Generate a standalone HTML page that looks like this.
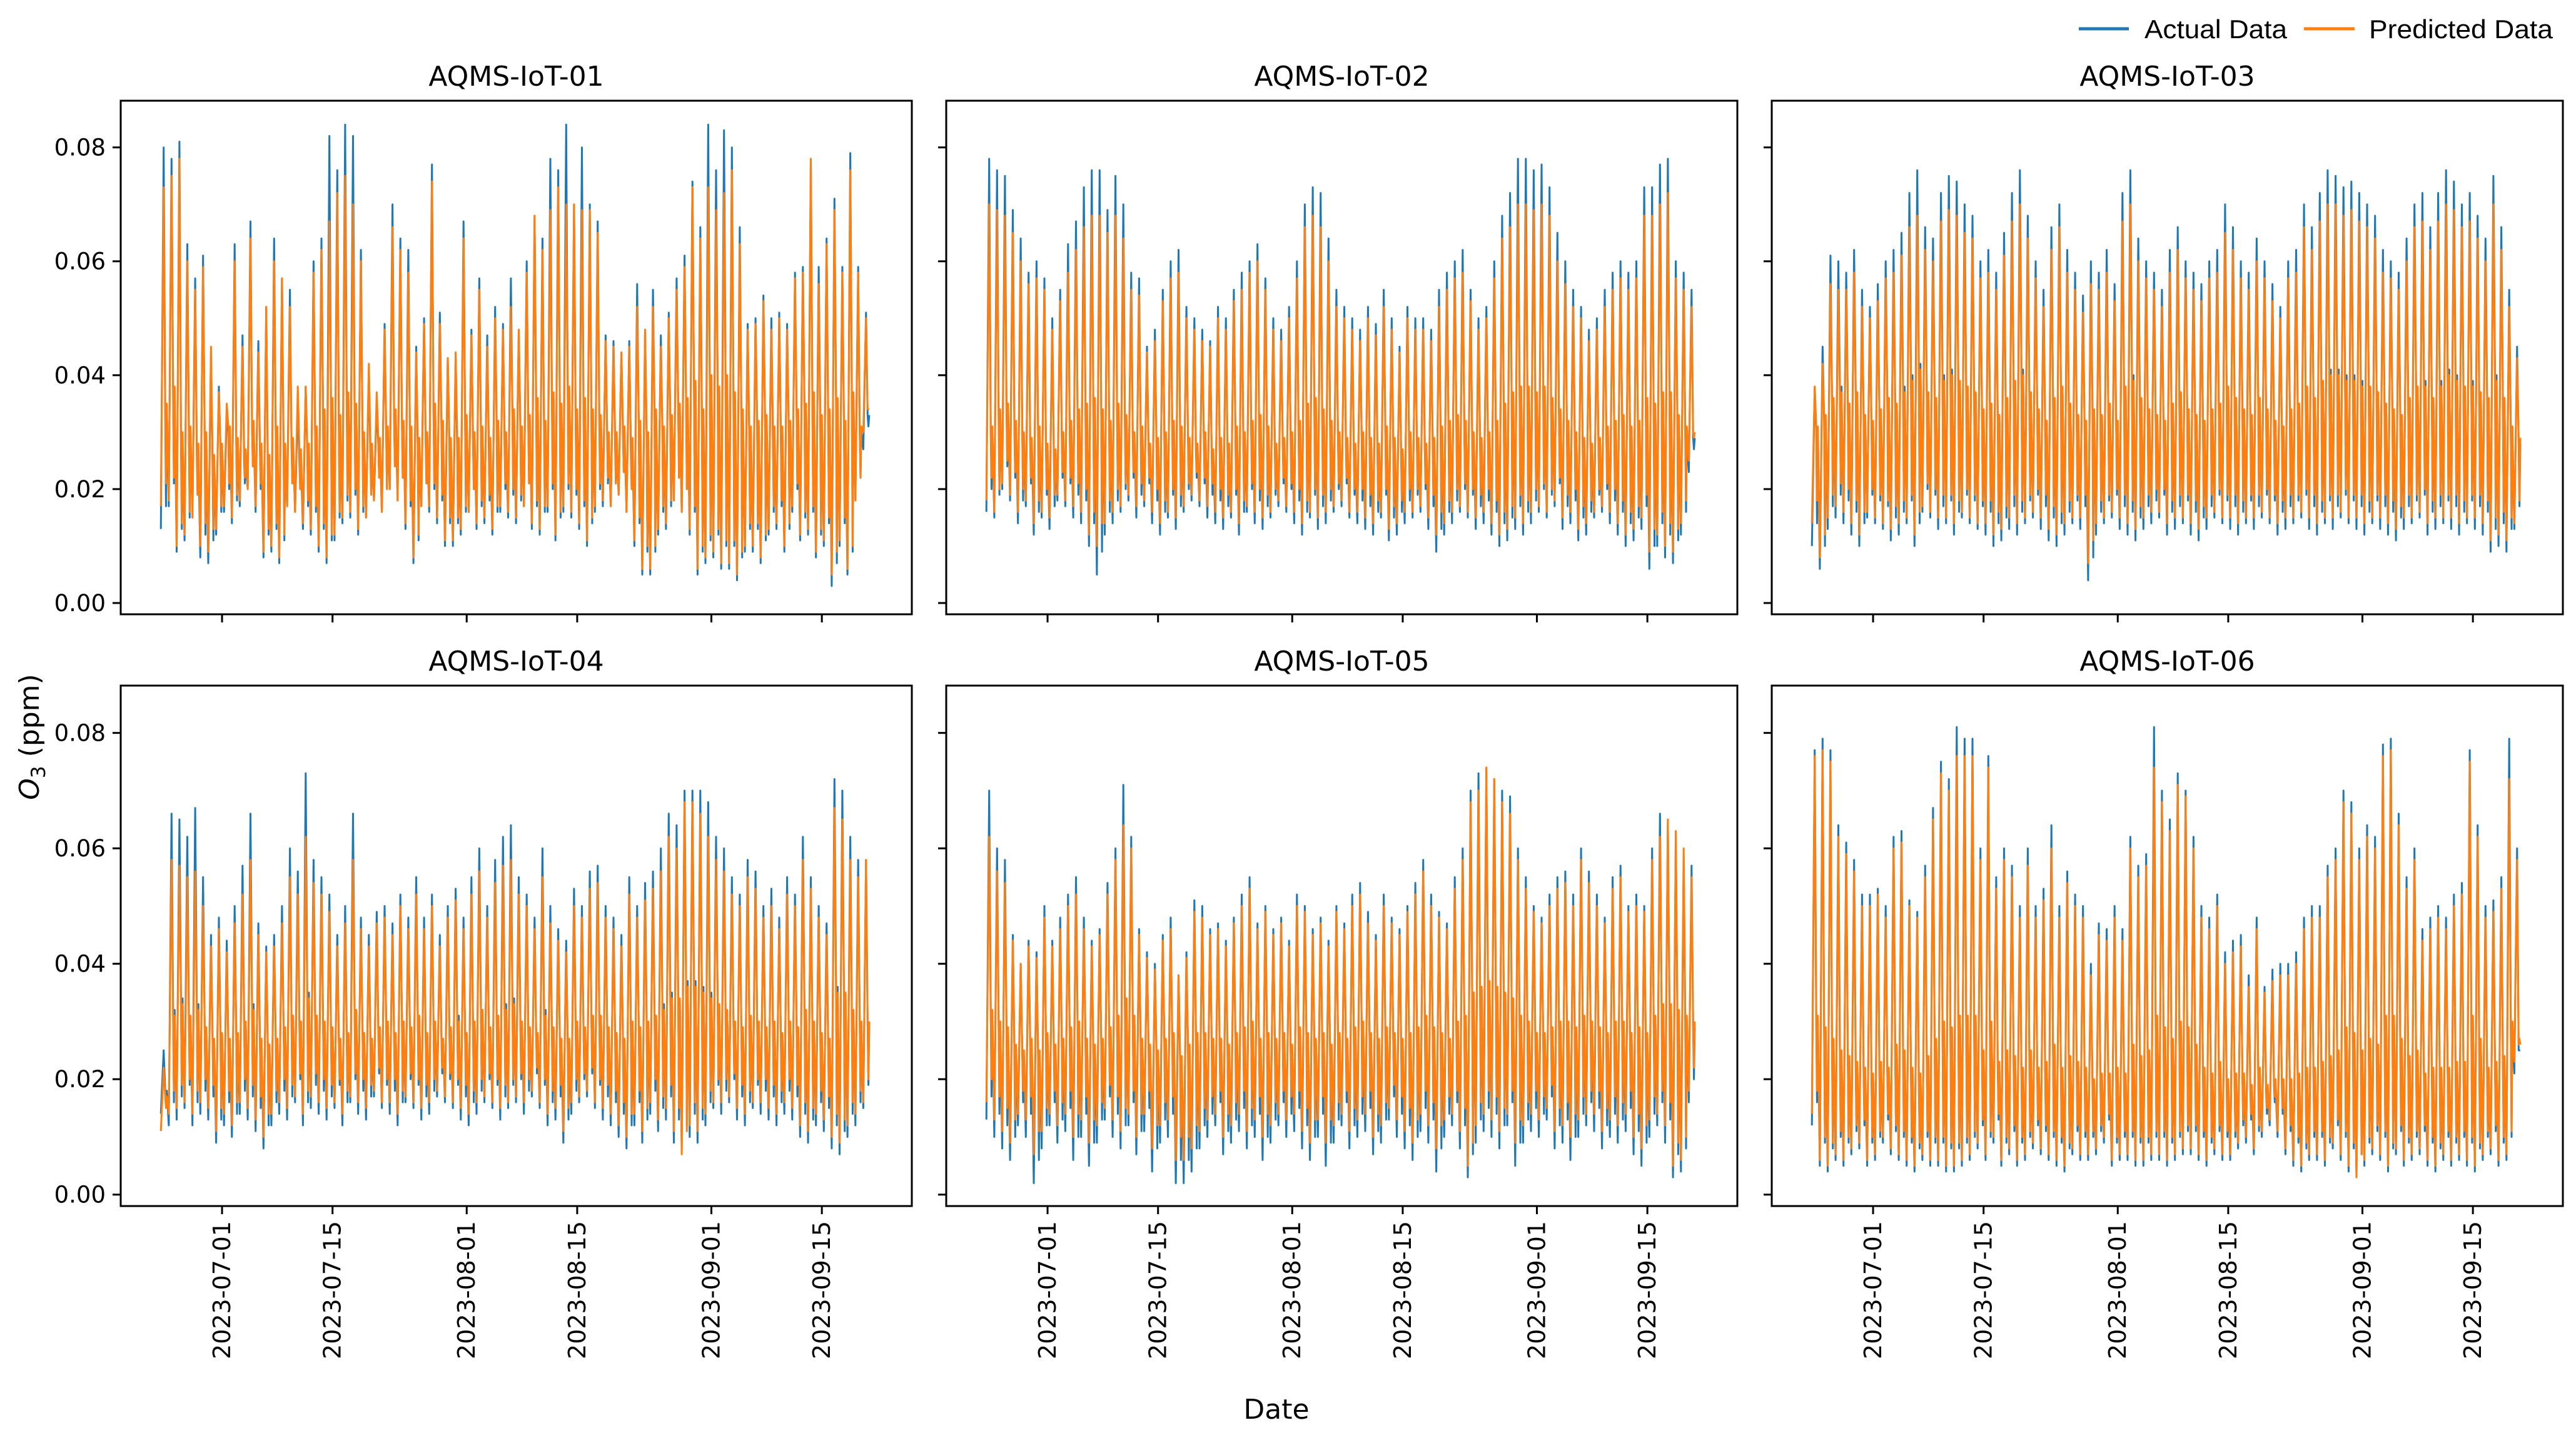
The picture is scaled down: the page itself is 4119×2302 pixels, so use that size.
<!DOCTYPE html>
<html><head><meta charset="utf-8"><style>
html,body{margin:0;padding:0;background:#fff;}
svg{display:block;}
</style></head><body>
<svg id="fig" xmlns="http://www.w3.org/2000/svg" width="4119" height="2302" viewBox="0 0 4119 2302">
<rect x="0" y="0" width="4119" height="2302" fill="#fff"/>
<g>
<line x1="3324" y1="46" x2="3404" y2="46" stroke="#1f77b4" stroke-width="5"/>
<text x="3429" y="61" font-family="Liberation Sans, sans-serif" font-size="42" textLength="228" lengthAdjust="spacingAndGlyphs">Actual Data</text>
<line x1="3684" y1="46" x2="3765" y2="46" stroke="#ff7f0e" stroke-width="5"/>
<text x="3788" y="61" font-family="Liberation Sans, sans-serif" font-size="42" textLength="294" lengthAdjust="spacingAndGlyphs">Predicted Data</text>
</g>
<text x="0" y="0" transform="translate(62,1178) rotate(-90)" text-anchor="middle" font-family="DejaVu Sans, sans-serif" font-size="44"><tspan font-style="italic">O</tspan><tspan font-size="31" dy="10">3</tspan><tspan dy="-10"> (ppm)</tspan></text>
<text x="2041" y="2268" text-anchor="middle" font-family="DejaVu Sans, sans-serif" font-size="44">Date</text>
<g id="panels"></g>
</svg>
<script>
const panelTitles = ["AQMS-IoT-01","AQMS-IoT-02","AQMS-IoT-03","AQMS-IoT-04","AQMS-IoT-05","AQMS-IoT-06"];
const yTicks = [0, 0.02, 0.04, 0.06, 0.08];
const yTickLabels = ["0.00","0.02","0.04","0.06","0.08"];
const xTickDays = [0, 14, 31, 45, 62, 76];
const xTickLabels = ["2023-07-01","2023-07-15","2023-08-01","2023-08-15","2023-09-01","2023-09-15"];
const startDay = -8; // 2023-06-23 relative to 2023-07-01
// daily peaks / troughs / evening values in ppb (thousandths of ppm)
const p1ActualHi = [80,78,81,63,57,61,44,38,33,63,47,67,46,52,64,57,55,35,38,60,64,82,76,84,82,62,41,35,49,70,64,62,45,50,77,51,43,43,67,48,57,47,52,49,57,48,60,68,64,78,76,84,70,80,70,67,47,46,44,46,56,48,55,47,51,57,61,74,66,84,76,83,80,66,49,50,54,50,51,49,58,59,78,59,64,71,59,79,59,51];
const p1ActualLo = [13,17,9,11,15,8,7,12,16,14,17,20,16,8,9,7,17,16,13,12,9,7,11,14,15,12,15,18,16,20,18,13,7,17,16,14,10,10,12,16,13,14,12,16,15,14,17,13,12,16,11,16,15,13,10,16,17,17,19,16,10,5,5,12,13,18,16,12,5,7,8,6,6,4,9,9,7,12,13,9,16,11,12,8,10,3,10,5,18,27];
const p1ActualMid = [33,37,28,30,26,29,24,27,30,28,25,31,27,24,30,26,28,25,27,30,33,35,31,36,34,29,26,28,30,33,31,30,27,29,34,31,28,27,32,29,30,27,31,28,33,30,32,35,31,36,34,37,33,35,33,32,29,28,30,27,31,29,33,30,32,34,35,38,33,40,37,39,36,33,30,31,32,29,30,31,33,34,36,32,33,35,31,36,30,33];
const p1PredHi = [73,75,78,60,55,59,45,37,35,60,45,64,44,52,60,57,52,38,38,58,62,67,72,75,70,60,42,37,48,66,62,58,44,49,74,49,43,44,64,47,55,45,50,48,52,48,58,68,62,69,73,70,70,69,69,65,46,45,44,45,52,48,52,45,50,55,59,73,64,73,69,72,76,63,48,49,53,48,50,48,57,58,78,56,63,69,58,76,58,50];
const p1PredLo = [17,18,10,12,15,10,9,13,17,15,18,20,17,9,10,8,17,16,14,13,10,8,12,15,16,13,15,18,16,20,18,14,8,17,17,15,11,11,13,16,14,15,13,17,16,15,17,14,13,17,12,17,16,14,11,17,18,17,19,16,11,6,6,13,14,18,16,13,6,8,9,7,7,5,10,10,8,13,14,10,17,12,13,9,11,5,11,6,18,30];
const p1PredMid = [35,38,30,31,28,30,26,28,31,29,27,32,28,26,31,28,29,27,28,31,34,36,33,37,35,30,28,29,31,34,32,31,29,30,35,32,29,29,33,30,31,29,32,30,34,31,33,36,32,37,35,38,34,36,34,33,30,30,31,29,32,30,34,31,33,35,36,39,34,40,38,40,37,34,31,32,33,31,31,32,34,35,37,33,34,36,32,37,31,34];
const p2ActualHi = [78,76,75,69,64,58,60,57,50,55,63,67,73,76,76,69,75,70,58,57,45,48,55,60,62,52,50,48,46,52,50,55,58,60,63,57,50,48,52,60,70,73,72,64,55,52,50,48,52,49,55,50,45,52,50,50,48,55,58,60,62,55,50,52,60,68,72,78,78,76,77,73,65,60,55,52,48,50,55,58,60,58,60,73,73,77,78,60,58,55];
const p2ActualLo = [16,15,20,18,14,17,12,15,13,18,17,15,14,10,5,12,14,16,18,15,17,14,12,15,13,16,18,17,15,14,13,15,12,16,14,13,15,17,16,14,12,15,13,14,16,17,15,14,13,12,15,11,12,14,15,16,13,9,12,14,16,15,13,14,12,10,11,13,12,14,16,15,17,13,14,11,12,15,16,14,12,10,11,13,6,10,8,7,12,23];
const p2ActualMid = [30,33,34,31,29,28,30,27,26,29,31,33,34,35,33,31,34,32,29,30,27,28,29,31,30,28,27,29,26,28,27,30,29,31,32,30,27,28,29,31,34,35,33,31,29,28,27,29,28,27,30,28,26,29,28,27,28,30,31,32,31,29,28,29,31,34,36,38,37,36,37,35,33,31,29,28,27,28,30,31,32,30,31,35,34,36,37,32,30,29];
const p2PredHi = [70,69,68,65,60,56,57,55,48,53,58,62,66,68,68,65,68,64,55,54,44,46,53,57,58,50,48,46,45,50,48,53,55,58,60,55,48,46,50,57,66,68,66,60,52,50,48,46,50,47,52,48,44,50,48,48,46,52,55,57,58,53,48,50,57,64,66,70,70,69,70,68,60,56,52,50,46,48,52,55,57,55,57,68,68,70,72,57,55,52];
const p2PredLo = [18,16,21,19,16,18,14,16,15,19,18,17,16,12,10,14,16,17,19,17,18,16,14,16,15,17,19,18,17,16,15,16,14,17,16,15,16,18,17,16,14,16,15,16,17,18,16,16,15,14,16,13,14,16,16,17,15,12,14,16,17,16,15,16,14,12,13,15,14,16,17,16,18,15,16,13,14,16,17,16,14,12,13,15,9,12,10,9,14,25];
const p2PredMid = [31,34,35,32,30,29,31,28,27,30,32,34,35,36,34,32,35,33,30,31,28,29,30,32,31,29,28,30,27,29,28,31,30,32,33,31,28,29,30,32,35,36,34,32,30,29,28,30,29,28,31,29,27,30,29,28,29,31,32,33,32,30,29,30,32,35,37,38,38,37,38,36,34,32,30,29,28,29,31,32,33,31,32,36,35,37,37,33,31,30];
const p3ActualHi = [38,45,61,60,58,62,55,52,56,60,62,65,72,76,66,64,72,75,74,70,68,60,62,58,65,72,76,68,60,55,66,70,62,58,54,60,58,62,56,72,76,64,60,58,55,62,66,60,58,56,60,62,70,66,60,58,64,60,56,52,60,62,70,66,72,76,75,73,74,72,70,68,62,60,58,64,70,72,66,72,76,74,70,72,68,64,75,66,55,45];
const p3ActualLo = [10,6,13,15,14,12,10,15,14,13,11,12,14,10,16,15,13,14,12,15,14,13,12,10,11,13,12,14,15,13,11,10,12,14,13,4,12,14,15,13,12,11,13,14,15,12,13,14,12,11,13,15,14,13,12,14,13,15,14,12,13,14,15,13,12,14,13,15,14,13,12,14,13,12,11,13,14,15,12,13,14,13,12,14,13,12,9,10,9,13];
const p3ActualMid = [30,32,36,38,35,37,33,31,34,36,35,38,40,42,37,36,40,41,39,38,37,34,35,33,36,39,41,37,34,32,36,38,35,33,31,34,33,35,32,38,40,36,34,33,32,35,37,34,33,32,34,35,38,36,34,33,36,34,32,31,34,35,38,36,39,41,41,40,40,39,38,37,35,34,33,36,38,39,36,39,41,40,38,39,37,36,40,36,31,28];
const p3PredHi = [38,42,56,55,55,58,52,50,53,57,58,61,66,68,62,60,67,69,68,65,64,57,58,55,61,67,70,64,57,52,62,66,58,55,51,56,55,58,53,67,70,60,57,55,52,58,62,57,55,53,57,58,65,62,57,55,60,57,53,50,57,58,66,62,67,70,70,68,69,67,66,64,58,57,55,60,66,67,62,67,70,69,66,67,64,60,70,62,52,43];
const p3PredLo = [14,8,15,17,16,14,12,16,15,14,13,14,15,12,17,16,15,15,14,16,15,14,14,12,13,15,14,15,16,15,13,12,14,15,15,7,14,15,16,15,14,13,15,16,16,14,15,15,14,13,15,16,15,15,14,15,15,16,15,14,15,15,16,15,14,15,15,16,15,15,14,15,15,14,13,15,15,16,14,15,15,15,14,15,15,14,11,12,11,14];
const p3PredMid = [31,33,36,37,35,37,33,32,34,36,35,37,39,41,37,36,39,40,39,38,37,34,35,33,36,39,40,37,34,32,36,38,35,33,32,34,33,35,32,38,39,36,34,33,32,35,37,34,33,32,34,35,38,36,34,33,36,34,32,31,34,35,38,36,39,40,40,39,39,38,38,37,35,34,33,36,38,38,36,38,40,39,38,38,37,36,39,36,31,29];
const p4ActualHi = [25,66,65,62,67,55,45,48,44,50,57,66,47,43,45,50,60,56,73,58,55,52,45,50,66,48,45,49,50,47,52,48,55,48,52,45,50,53,48,55,60,50,58,62,64,55,52,48,60,50,46,44,53,50,56,57,50,48,45,55,50,54,56,60,66,64,70,70,70,68,62,60,55,52,58,56,50,53,48,55,52,62,55,50,47,72,70,62,58,58];
const p4ActualLo = [14,12,13,15,12,14,13,9,12,10,14,13,11,8,12,14,13,16,12,15,14,13,15,12,16,14,13,17,15,14,12,16,15,13,14,17,16,15,13,12,14,16,15,13,15,16,14,17,15,12,13,9,14,16,17,15,13,12,10,8,12,9,14,11,13,9,8,10,9,12,15,14,16,13,12,15,14,13,12,14,13,10,9,12,11,8,7,10,12,15];
const p4ActualMid = [18,32,34,31,33,29,27,28,26,28,30,33,27,26,27,29,31,30,35,31,30,29,27,28,32,28,27,29,30,28,30,29,31,28,30,27,29,31,28,30,32,29,31,33,34,30,29,28,32,29,27,26,30,29,31,31,29,28,27,30,29,30,31,33,35,34,37,37,36,35,33,32,30,29,31,30,29,30,28,30,29,32,30,28,27,36,35,32,30,30];
const p4PredHi = [22,58,57,55,56,50,43,46,42,47,52,58,45,42,43,47,55,52,62,54,52,49,43,47,58,46,43,47,48,45,50,46,52,46,50,43,48,51,46,52,56,48,54,57,58,52,50,46,55,47,44,42,50,48,53,54,48,46,43,52,48,51,53,56,62,60,68,68,66,62,58,56,52,50,55,53,48,50,46,52,50,58,53,48,45,67,65,58,55,58];
const p4PredLo = [11,14,15,16,14,16,15,11,14,12,16,15,13,10,14,16,15,17,14,17,16,15,16,14,17,16,15,18,16,16,14,17,16,15,16,18,17,16,15,14,16,17,16,15,16,17,16,18,16,14,15,11,16,17,18,16,15,14,12,10,14,11,16,13,15,11,7,12,11,14,16,16,17,15,14,16,16,15,14,16,15,12,11,14,13,10,9,12,14,16];
const p4PredMid = [17,31,33,31,32,29,27,28,27,28,30,32,27,26,27,29,31,30,34,31,30,29,27,28,32,28,27,29,30,28,30,29,31,28,30,27,29,30,28,30,32,29,31,32,33,30,29,28,31,29,27,27,30,29,31,31,29,28,27,30,29,30,31,32,34,34,36,36,35,34,33,32,30,29,31,30,29,30,28,30,29,32,30,28,27,35,35,32,30,30];
const p5ActualHi = [70,60,58,45,40,44,42,50,44,48,52,55,48,44,46,54,60,71,62,46,42,40,45,48,38,42,51,50,46,47,44,48,52,55,47,50,46,48,44,52,50,46,48,44,50,47,52,54,49,45,52,48,46,50,54,58,52,49,47,55,60,70,73,74,72,70,69,60,55,50,48,52,55,56,52,60,56,52,48,55,57,50,52,50,60,66,64,62,58,57];
const p5ActualLo = [13,10,8,6,12,10,2,8,12,9,11,6,10,5,9,13,10,8,12,7,11,4,9,10,2,2,4,8,10,12,7,9,11,8,10,6,9,12,10,11,8,6,10,5,9,12,8,10,11,7,9,13,10,8,6,11,9,4,10,12,8,3,9,11,10,8,12,5,9,11,10,13,8,9,6,10,12,11,8,10,9,11,7,5,10,12,9,3,4,16];
const p5ActualMid = [32,30,29,25,24,26,24,27,25,27,28,30,27,25,26,29,31,34,31,26,25,24,26,27,23,25,28,27,26,27,25,27,28,30,26,28,26,27,25,28,27,26,27,25,28,26,28,29,27,26,28,27,26,28,29,31,28,27,26,29,31,35,36,37,36,35,34,31,29,28,27,28,29,30,28,31,30,28,27,29,30,28,28,27,31,33,32,31,30,29];
const p5PredHi = [62,56,54,44,40,43,41,48,43,46,50,52,46,43,45,52,58,64,60,45,41,39,44,46,38,41,49,48,45,46,43,47,50,53,46,49,45,47,43,50,49,45,47,43,49,46,50,52,47,44,50,47,45,49,52,56,50,48,46,53,58,68,70,74,72,68,66,58,53,49,47,50,53,54,50,58,54,50,47,53,55,49,50,49,58,62,65,63,60,55];
const p5PredLo = [16,13,11,9,14,13,7,11,14,12,14,10,13,9,12,15,13,11,14,10,14,8,12,13,6,6,8,11,13,14,10,12,14,11,13,10,12,14,13,14,11,9,13,9,12,14,11,13,14,10,12,15,13,11,9,14,12,8,13,14,11,5,12,14,13,11,14,9,12,14,13,15,11,12,10,13,14,14,11,13,12,14,10,8,13,14,12,5,6,18];
const p5PredMid = [32,30,29,26,25,27,25,28,26,27,29,30,27,26,27,29,31,34,31,27,26,25,27,28,24,26,28,28,27,27,26,28,29,30,27,28,27,28,26,29,28,27,28,26,28,27,29,30,28,27,29,28,27,28,29,31,29,28,27,30,31,35,36,37,36,35,34,31,30,28,28,29,30,30,29,31,30,29,28,30,30,28,29,28,31,33,33,32,31,30];
const p6ActualHi = [77,79,77,64,61,58,52,52,53,50,62,63,51,49,57,67,75,72,81,79,79,60,76,55,60,57,50,60,50,53,64,50,56,52,50,40,47,46,50,46,62,57,59,81,70,65,73,70,62,50,48,52,42,44,45,38,48,36,39,40,40,42,48,50,50,57,60,70,68,60,64,62,78,79,66,55,60,46,48,50,48,52,54,77,64,50,51,55,79,60];
const p6ActualLo = [12,5,4,6,5,7,8,5,6,9,7,6,5,4,6,5,5,4,4,5,6,8,6,9,5,7,5,6,8,7,6,5,4,7,6,6,7,9,5,6,6,5,5,6,6,5,6,7,7,6,5,7,6,6,8,9,7,10,12,10,7,5,4,6,6,5,8,6,4,3,5,7,6,4,7,5,6,7,5,4,6,5,6,5,4,6,7,5,6,21];
const p6ActualMid = [30,28,26,24,23,22,21,20,22,21,25,24,21,20,23,26,29,28,31,30,30,24,29,22,24,23,21,24,21,22,25,21,23,22,21,19,20,20,21,20,25,23,24,31,28,26,29,28,25,21,20,22,19,20,20,18,21,18,19,19,19,20,21,21,22,23,24,28,27,24,26,25,30,31,26,23,24,20,21,21,21,22,22,30,26,21,22,23,30,25];
const p6PredHi = [76,77,75,62,59,56,50,50,52,48,60,61,50,48,55,65,73,70,76,76,76,58,74,53,58,55,48,57,48,51,60,48,54,50,48,38,45,44,48,44,60,55,57,74,68,63,71,69,60,48,46,50,40,42,43,36,46,35,37,38,38,40,46,48,48,55,58,68,66,58,62,60,76,77,64,53,58,44,46,48,46,50,52,75,62,48,49,53,72,58];
const p6PredLo = [14,6,5,7,6,8,9,6,7,10,8,7,6,5,7,6,6,5,5,6,7,9,7,10,6,8,6,7,9,8,7,6,5,8,7,7,8,10,6,7,7,6,6,7,7,6,7,8,8,7,6,8,7,7,9,10,8,11,13,11,8,6,5,7,7,6,9,7,5,3,6,8,7,5,8,6,7,8,6,5,7,6,7,6,5,7,8,6,7,23];
const p6PredMid = [31,29,27,25,24,23,22,21,23,22,26,25,22,21,24,27,30,29,31,31,31,25,30,23,25,24,22,25,22,23,26,22,24,23,22,20,21,21,22,21,26,24,25,31,29,27,30,29,26,22,21,23,20,21,21,19,22,19,20,20,20,21,22,22,23,24,25,29,28,25,27,26,31,31,27,24,25,21,22,22,22,23,23,31,27,22,23,24,30,26];

const seriesSets = [
  [p1ActualHi,p1ActualLo,p1ActualMid,p1PredHi,p1PredLo,p1PredMid],
  [p2ActualHi,p2ActualLo,p2ActualMid,p2PredHi,p2PredLo,p2PredMid],
  [p3ActualHi,p3ActualLo,p3ActualMid,p3PredHi,p3PredLo,p3PredMid],
  [p4ActualHi,p4ActualLo,p4ActualMid,p4PredHi,p4PredLo,p4PredMid],
  [p5ActualHi,p5ActualLo,p5ActualMid,p5PredHi,p5PredLo,p5PredMid],
  [p6ActualHi,p6ActualLo,p6ActualMid,p6PredHi,p6PredLo,p6PredMid]
];

const NS = "http://www.w3.org/2000/svg";
const root = document.getElementById("panels");
const lefts = [193, 1513, 2833], W = 1265;
const tops = [161, 1096], H = [821, 832];
const xMin = -12.84, xMax = 87.4;
const yMin = -0.00198, yMax = 0.0882;
function mk(tag, attrs, parent){const e=document.createElementNS(NS,tag);for(const k in attrs)e.setAttribute(k,attrs[k]);parent.appendChild(e);return e;}

for(let p=0;p<6;p++){
  const col=p%3,row=Math.floor(p/3);
  const L=lefts[col],T=tops[row],Hh=H[row];
  const xs=d=>L+(d-xMin)/(xMax-xMin)*W;
  const ys=v=>T+Hh-(v-yMin)/(yMax-yMin)*Hh;
  const g=mk("g",{},root);
  
  
  const t=mk("text",{x:L+W/2,y:T-24,"text-anchor":"middle","font-family":"DejaVu Sans, sans-serif","font-size":"44"},g);
  t.textContent=panelTitles[p];
  
  
  const cp=mk("clipPath",{id:"cp"+p},g);
  mk("rect",{x:L,y:T,width:W,height:Hh},cp);
  const s=seriesSets[p];
  const colors=["#1f77b4","#ff7f0e"];
  for(let k=0;k<2;k++){
    const hi=s[k*3],lo=s[k*3+1],mid=s[k*3+2];
    let pts=[];
    for(let i=0;i<hi.length;i++){
      pts.push(xs(startDay+i+0.25).toFixed(1)+","+ys(lo[i]/1000).toFixed(1));
      pts.push(xs(startDay+i+0.6).toFixed(1)+","+ys(hi[i]/1000).toFixed(1));
      pts.push(xs(startDay+i+0.8).toFixed(1)+","+ys(mid[i]/1000).toFixed(1));
      pts.push(xs(startDay+i+0.9).toFixed(1)+","+ys((lo[i]+4)/1000).toFixed(1));
      pts.push(xs(startDay+i+1.0).toFixed(1)+","+ys(mid[i]/1000).toFixed(1));
    }
    const pl=mk("polyline",{points:pts.join(" "),fill:"none",stroke:colors[k],"stroke-width":"3","stroke-linejoin":"round","clip-path":"url(#cp"+p+")"},g);
    
    
  }
  const fr=mk("rect",{x:L,y:T,width:W,height:Hh,fill:"none",stroke:"#000","stroke-width":"3"},g);
  
  
  for(let i=0;i<yTicks.length;i++){
    const y=ys(yTicks[i]);
    const tk=mk("line",{x1:L-13,y1:y,x2:L,y2:y,stroke:"#000","stroke-width":"3"},g);
    
    
    if(col===0){
      const lb=mk("text",{x:L-24,y:y+13,"text-anchor":"end","font-family":"DejaVu Sans, sans-serif","font-size":"37"},g);
      lb.textContent=yTickLabels[i];
      
      
    }
  }
  for(let i=0;i<xTickDays.length;i++){
    const x=xs(xTickDays[i]);
    const tk=mk("line",{x1:x,y1:T+Hh,x2:x,y2:T+Hh+13,stroke:"#000","stroke-width":"3"},g);
    
    
    if(row===1){
      const lb=mk("text",{x:0,y:0,transform:"translate("+(x+13)+","+(T+Hh+24)+") rotate(-90)","text-anchor":"end","font-family":"DejaVu Sans, sans-serif","font-size":"38"},g);
      lb.textContent=xTickLabels[i];
      
      
    }
  }
}
</script>
</body></html>
